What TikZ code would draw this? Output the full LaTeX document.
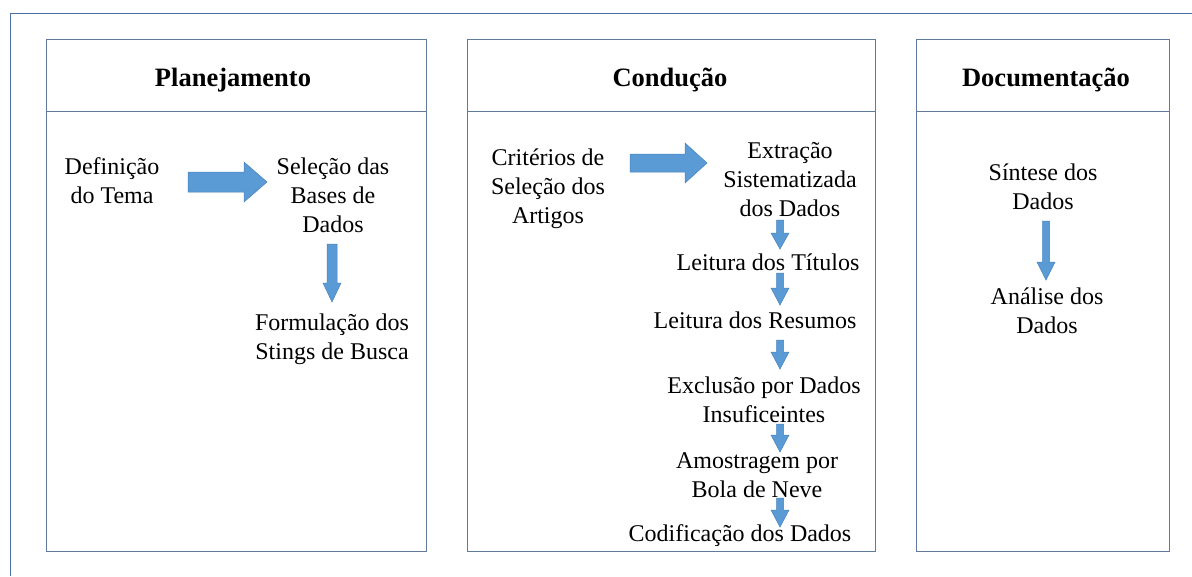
\documentclass[tikz,border=0pt]{standalone}
\usepackage{fontspec}
\setmainfont{Liberation Serif}
\definecolor{frameblue}{RGB}{74,112,165}
\definecolor{panelline}{RGB}{96,122,156}
\definecolor{arrowfill}{RGB}{91,155,213}
\definecolor{arrowline}{RGB}{70,130,190}
\newcommand{\blockright}[6]{% x1, headx, tipx, yc, shaft half, head half
  \filldraw[blockarrow] (#1,#4-#5) -- (#2,#4-#5) -- (#2,#4-#6) -- (#3,#4) -- (#2,#4+#6) -- (#2,#4+#5) -- (#1,#4+#5) -- cycle;}
\newcommand{\blockdown}[6]{% xc, y1, heady, tipy, shaft half, head half
  \filldraw[blockarrow] (#1-#5,#2) -- (#1+#5,#2) -- (#1+#5,#3) -- (#1+#6,#3) -- (#1,#4) -- (#1-#6,#3) -- (#1-#5,#3) -- cycle;}
\begin{document}
\begin{tikzpicture}[x=1pt,y=-1pt,
  panel/.style={draw=panelline, line width=0.9pt},
  blockarrow/.style={fill=arrowfill, draw=arrowline, line width=0.5pt},
  title/.style={font=\fontsize{26.5}{31}\selectfont\bfseries, inner sep=0pt},
  txt/.style={font=\fontsize{24}{29}\selectfont, align=center, inner sep=0pt}]
\useasboundingbox (0,0) rectangle (1192,576);
\fill[white] (0,0) rectangle (1192,576);
% outer frame
\draw[frameblue, line width=1pt] (10,576) -- (10,13) -- (1192,13);
% panels
\draw[panel] (46,39) rectangle (426,551);
\draw[panel] (46,111) -- (426,111);
\draw[panel] (467,39) rectangle (875,551);
\draw[panel] (467,111) -- (875,111);
\draw[panel] (916,39) rectangle (1169,551);
\draw[panel] (916,111) -- (1169,111);
% titles
\node[title] (plan) at (233,80) {Planejamento};
\node[title] (cond) at (670,80) {Condução};
\node[title] (doc) at (1046,80) {Documentação};
% Planejamento
\node[txt] (def) at (112,181) {Definição\\do Tema};
\node[txt] (sel) at (333,195) {Seleção das\\Bases de\\Dados};
\node[txt] (form) at (332,339) {Formulação dos\\Stings de Busca};
% Condução
\node[txt] (crit) at (548,189) {Critérios de\\Seleção dos\\Artigos};
\node[txt] (extr) at (790,180) {Extração\\Sistematizada\\dos Dados};
\node[txt] (tit) at (768,262) {Leitura dos Títulos};
\node[txt] (res) at (755,320) {Leitura dos Resumos};
\node[txt] (excl) at (764,400) {Exclusão por Dados\\Insuficeintes};
\node[txt] (amos) at (757,475) {Amostragem por\\Bola de Neve};
\node[txt] (cod) at (740,536) {Codificação dos Dados};
% Documentação
\node[txt] (sint) at (1043,187) {Síntese dos\\Dados};
\node[txt] (anal) at (1047,311) {Análise dos\\Dados};
% block arrows
\blockright{188}{244}{267}{182}{10}{20}
\blockdown{332}{244}{283}{302}{5}{9}
\blockright{630}{685}{707}{163}{9}{20}
\blockdown{780}{220}{233}{249}{3.5}{9}
\blockdown{780}{273}{288}{305}{3.5}{9}
\blockdown{780}{340}{352}{369}{3.5}{9}
\blockdown{780}{424}{435}{452}{3.5}{9}
\blockdown{780}{498}{510}{527}{3.5}{9}
\blockdown{1046}{221}{262}{280}{3.5}{9}
\end{tikzpicture}
\end{document}
